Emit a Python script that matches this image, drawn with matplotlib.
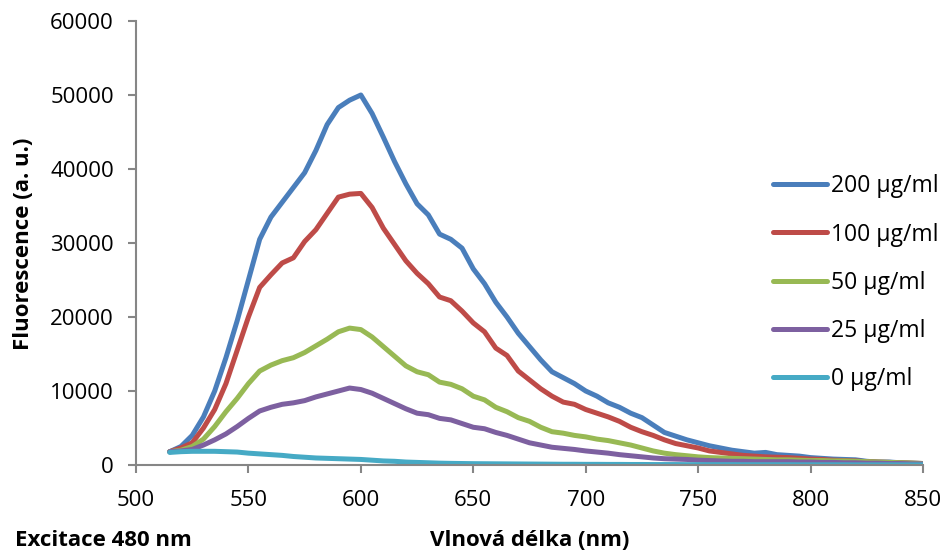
import numpy as np
import matplotlib
matplotlib.use("Agg")
import matplotlib.pyplot as plt

plt.rcParams['font.family'] = ['Open Sans', 'DejaVu Sans']

wavelength = list(range(515, 855, 5))

c200 = [1800, 2500, 4000, 6500, 10000, 14500, 19500, 25000, 30500, 33500,
        35500, 37500, 39500, 42500, 46000, 48300, 49300, 50000, 47500, 44300,
        41000, 38000, 35300, 33800, 31200, 30500, 29300, 26500, 24500, 22000,
        20000, 17800, 16000, 14200, 12600, 11800, 11000, 10000, 9300, 8400,
        7800, 7000, 6400, 5400, 4400, 3900, 3400, 3000, 2600, 2300,
        2000, 1800, 1600, 1700, 1400, 1300, 1200, 1000, 900, 800,
        750, 700, 500, 400, 400, 300, 250, 200]
c100 = [1800, 2300, 3000, 5000, 7500, 11000, 15500, 20000, 24000, 25700,
        27300, 28000, 30200, 31800, 34000, 36200, 36600, 36700, 34800, 32000,
        29800, 27600, 25900, 24500, 22700, 22200, 20800, 19200, 18000, 15800,
        14800, 12700, 11500, 10300, 9300, 8500, 8200, 7500, 7000, 6500,
        5900, 5100, 4500, 4000, 3400, 2900, 2600, 2300, 1900, 1700,
        1500, 1300, 1200, 1100, 1050, 1000, 900, 800, 750, 650,
        600, 550, 450, 400, 350, 300, 250, 200]
c50 = [1800, 2000, 2500, 3500, 5200, 7200, 9000, 11000, 12700, 13500,
       14100, 14500, 15200, 16100, 17000, 18000, 18500, 18300, 17300, 16000,
       14700, 13400, 12600, 12200, 11200, 10900, 10300, 9300, 8800, 7800,
       7200, 6400, 5900, 5100, 4500, 4300, 4000, 3800, 3500, 3300,
       3000, 2700, 2300, 1900, 1600, 1400, 1250, 1100, 1000, 950,
       900, 850, 800, 750, 700, 700, 650, 600, 600, 550,
       550, 500, 450, 400, 350, 300, 250, 200]
c25 = [1800, 1900, 2100, 2700, 3400, 4200, 5200, 6300, 7300, 7800,
       8200, 8400, 8700, 9200, 9600, 10000, 10400, 10200, 9700, 9000,
       8300, 7600, 7000, 6800, 6300, 6100, 5600, 5100, 4900, 4400,
       4000, 3500, 3000, 2700, 2400, 2250, 2100, 1900, 1750, 1600,
       1400, 1250, 1100, 950, 850, 800, 750, 650, 600, 550,
       500, 500, 450, 450, 450, 450, 400, 400, 350, 350,
       300, 300, 250, 250, 200, 200, 150, 150]
c0 = [1700, 1800, 1850, 1850, 1850, 1800, 1750, 1600, 1500, 1400,
      1300, 1150, 1050, 950, 900, 850, 800, 750, 650, 550,
      500, 400, 350, 300, 250, 220, 200, 180, 170, 160,
      150, 140, 130, 120, 110, 100, 100, 90, 90, 80,
      80, 70, 70, 60, 60, 60, 50, 50, 50, 50,
      50, 40, 40, 40, 40, 40, 30, 30, 30, 30,
      30, 20, 20, 20, 20, 20, 20, 20]

labels = ['200 µg/ml', '100 µg/ml', '50 µg/ml', '25 µg/ml', '0 µg/ml']
colors = ['#4A7EBB', '#BE4B48', '#98B954', '#7D60A0', '#46AAC5']
series = [c200, c100, c50, c25, c0]

fig = plt.figure(figsize=(9.45, 5.54), dpi=100)
ax = fig.add_axes([136/945, 1 - 465/554, (923-136)/945, (465-21)/554])

for vals, lab, col in zip(series, labels, colors):
    ax.plot(wavelength, vals, color=col, lw=3.6, label=lab,
            solid_capstyle='round', solid_joinstyle='round')

ax.set_xlim(500, 850)
ax.set_ylim(0, 60000)
ax.set_xticks(np.arange(500, 851, 50))
ax.set_yticks(np.arange(0, 60001, 10000))

for s in ['top', 'right']:
    ax.spines[s].set_visible(False)
for s in ['left', 'bottom']:
    ax.spines[s].set_color('#868686')
    ax.spines[s].set_linewidth(1.5)
ax.tick_params(axis='both', colors='#868686', length=6, width=1.5, labelcolor='black', labelsize=16)
ax.tick_params(axis='y', pad=10)
ax.tick_params(axis='x', pad=12)

fig.text(24/945, 1 - 244/554, 'Fluorescence (a. u.)', fontsize=16, fontweight='bold',
         rotation=90, ha='center', va='center')
fig.text(530/945, 1 - 541/554, 'Vlnová délka (nm)', fontsize=16, fontweight='bold', ha='center', va='center')
fig.text(15/945, 1 - 541/554, 'Excitace 480 nm', fontsize=16, fontweight='bold', ha='left', va='center')

ax.legend(loc='upper left', bbox_to_anchor=(762/945, 1 - 163/554), bbox_transform=fig.transFigure,
          frameon=False, fontsize=16.5, handlelength=2.35, handletextpad=0.18, labelspacing=1.05, borderpad=0)

fig.savefig('out.png', dpi=100)
